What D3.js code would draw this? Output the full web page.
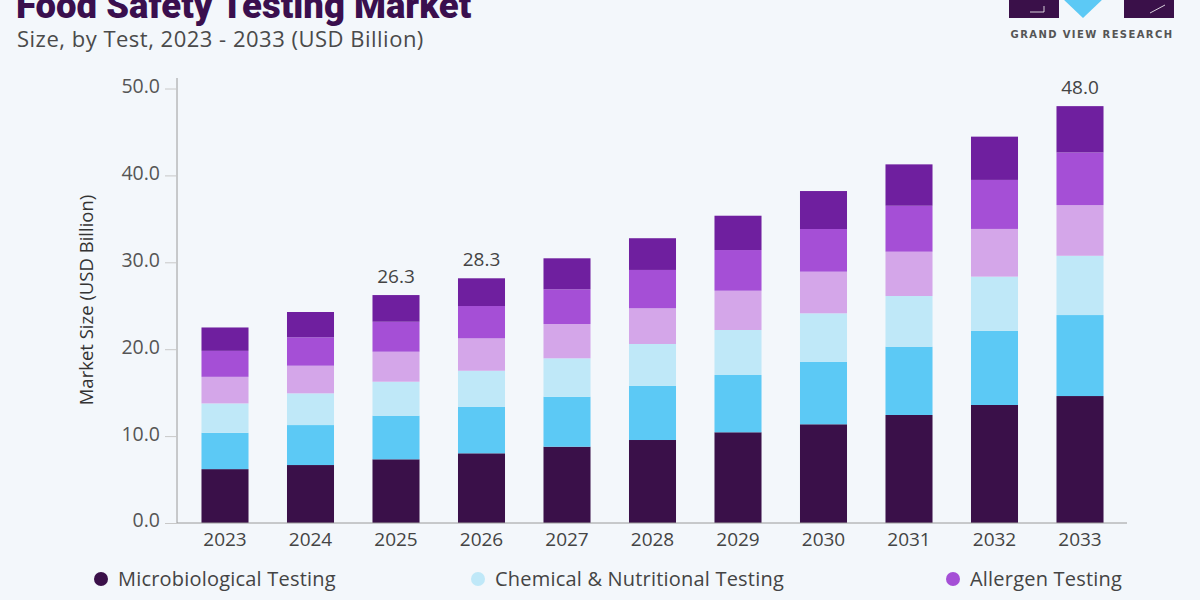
<!DOCTYPE html>
<html>
<head>
<meta charset="utf-8">
<script src="https://cdn.jsdelivr.net/npm/d3@7"></script>
<style>
  html, body { margin: 0; padding: 0; background: #f3f7fb; }
  svg { display: block; }
</style>
</head>
<body>
<svg id="chart" width="1200" height="600"></svg>
<script>
const years = ["2023","2024","2025","2026","2027","2028","2029","2030","2031","2032","2033"];
const seriesNames = ["Microbiological Testing","GMO Testing","Chemical & Nutritional Testing","Residues & Contamination Testing","Allergen Testing","Others"];
const microbiological = [6.20, 6.67, 7.33, 8.02, 8.78, 9.55, 10.44, 11.36, 12.43, 13.58, 14.61];
const gmo             = [4.18, 4.60, 5.02, 5.36, 5.75, 6.25, 6.59, 7.20, 7.86, 8.52, 9.32];
const chemical        = [3.38, 3.65, 3.91, 4.14, 4.42, 4.80, 5.18, 5.57, 5.83, 6.25, 6.82];
const residues        = [3.06, 3.18, 3.45, 3.73, 3.95, 4.11, 4.52, 4.79, 5.10, 5.49, 5.83];
const allergen        = [2.99, 3.27, 3.45, 3.72, 3.99, 4.41, 4.68, 4.91, 5.29, 5.64, 6.06];
const others          = [2.69, 2.91, 3.07, 3.19, 3.57, 3.65, 3.95, 4.37, 4.76, 4.98, 5.33];
const totalLabels = ["", "", "26.3", "28.3", "", "", "", "", "", "", "48.0"];
const yTicks = [0, 10, 20, 30, 40, 50];
const legendItems = ["Microbiological Testing", "Chemical & Nutritional Testing", "Allergen Testing"];

const colors = ["#3a1049", "#5cc9f5", "#bfe8f8", "#d4a6e9", "#a54fd6", "#6f1f9f"];
const seriesValues = [microbiological, gmo, chemical, residues, allergen, others];

const rows = years.map((yr, i) => {
  const r = { year: yr };
  seriesNames.forEach((s, k) => r[s] = seriesValues[k][i]);
  return r;
});

const FONT = "'Open Sans', 'Liberation Sans', Arial, sans-serif";
const svg = d3.select("#chart");
const x = d3.scaleBand().domain(years).range([182.25, 1122.75]).paddingInner(0.45).paddingOuter(0.225);
const y = d3.scaleLinear().domain([0, 50]).range([523, 88.5]);

// Title
svg.append("text").attr("x", 16).attr("y", 18)
  .attr("font-family", "Roboto, 'Liberation Sans', sans-serif").attr("font-weight", 900)
  .attr("font-size", 36.5).attr("fill", "#3a0f4e").text("Food Safety Testing Market");
svg.append("text").attr("x", 17).attr("y", 47)
  .attr("font-family", FONT).attr("letter-spacing", 0.5)
  .attr("font-size", 22).attr("fill", "#4a4a4a").text("Size, by Test, 2023 - 2033 (USD Billion)");

// Logo
const logo = svg.append("g");
logo.append("rect").attr("x", 1009).attr("y", -2).attr("width", 50).attr("height", 20).attr("fill", "#3a1049");
logo.append("rect").attr("x", 1124).attr("y", -2).attr("width", 50).attr("height", 20).attr("fill", "#3a1049");
logo.append("path").attr("d", "M1062,-2 L1104,-2 L1083,18 Z").attr("fill", "#5cc9f5");
logo.append("path").attr("d", "M1030,12 L1044,12 L1044,6").attr("stroke", "#ffffff").attr("stroke-width", 1).attr("fill", "none").attr("opacity", 0.8);
logo.append("path").attr("d", "M1150,13 L1165,5").attr("stroke", "#ffffff").attr("stroke-width", 1).attr("fill", "none").attr("opacity", 0.8);
logo.append("text").attr("x", 1092).attr("y", 38).attr("text-anchor", "middle")
  .attr("font-family", "'DejaVu Sans', sans-serif").attr("font-weight", "bold")
  .attr("font-size", 10).attr("letter-spacing", 1.4).attr("fill", "#555")
  .text("GRAND VIEW RESEARCH");

// Y axis
const yAxis = svg.append("g").attr("transform", "translate(177,0)")
  .call(d3.axisLeft(y).tickValues(yTicks).tickFormat(d3.format(".1f")).tickSize(12).tickPadding(5));
yAxis.select(".domain").attr("stroke", "#9a9a9a").attr("d", "M0,78V523");
yAxis.selectAll(".tick line").attr("stroke", "#c8c8c8");
yAxis.selectAll(".tick text").attr("font-family", FONT)
  .attr("font-size", 19.5).attr("fill", "#555").attr("dy", "0.2em");

svg.append("text").attr("transform", "translate(93,300) rotate(-90)").attr("text-anchor", "middle")
  .attr("font-family", FONT).attr("font-size", 18.5).attr("fill", "#333")
  .text("Market Size (USD Billion)");

// Bars
const stacked = d3.stack().keys(seriesNames)(rows);
svg.append("g").selectAll("g").data(stacked).join("g")
  .attr("fill", (d, i) => colors[i])
  .selectAll("rect").data(d => d).join("rect")
  .attr("x", d => x(d.data.year))
  .attr("width", x.bandwidth())
  .attr("y", d => y(d[1]))
  .attr("height", d => y(d[0]) - y(d[1]));

// X axis
const xAxis = svg.append("g").attr("transform", "translate(0,523)")
  .call(d3.axisBottom(x).tickSize(0).tickPadding(10));
xAxis.select(".domain").attr("stroke", "#9a9a9a").attr("d", "M177,0H1127");
xAxis.selectAll(".tick text").attr("font-family", FONT)
  .attr("font-size", 19).attr("fill", "#444");

// Total labels
const topLayer = stacked[stacked.length - 1];
svg.append("g").selectAll("text").data(years).join("text")
  .attr("x", d => x(d) + x.bandwidth() / 2)
  .attr("y", (d, i) => y(topLayer[i][1]) - 12)
  .attr("text-anchor", "middle")
  .attr("font-family", FONT).attr("font-size", 19).attr("fill", "#444")
  .text((d, i) => totalLabels[i]);

// Legend
const legendX = [101, 478, 953];
const legendColors = [colors[0], colors[2], colors[4]];
const lg = svg.append("g").selectAll("g").data(legendItems).join("g")
  .attr("transform", (d, i) => `translate(${legendX[i]},579)`);
lg.append("circle").attr("r", 7).attr("fill", (d, i) => legendColors[i]);
lg.append("text").attr("x", 17).attr("y", 7)
  .attr("font-family", FONT).attr("font-size", 20).attr("letter-spacing", 0.2).attr("fill", "#444")
  .text(d => d);
</script>
</body>
</html>
